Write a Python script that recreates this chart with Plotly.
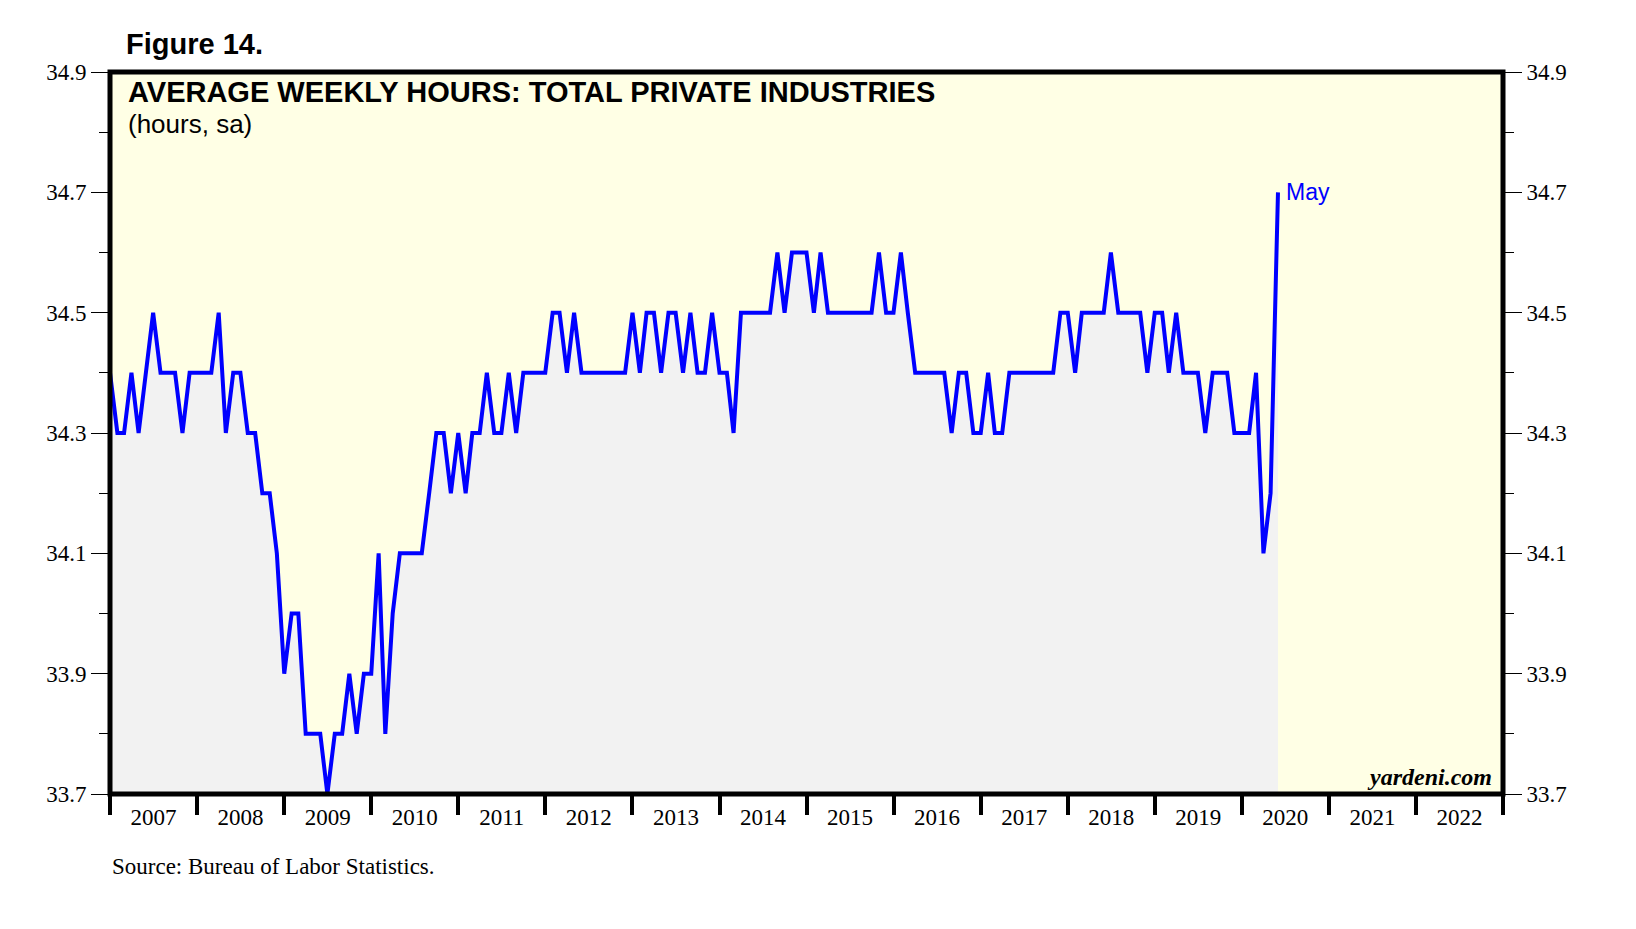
import pandas as pd
import plotly.graph_objects as go

# Observation months (Dec 2006 .. May 2020); each value plotted at month end
months = pd.period_range("2006-12", "2020-05", freq="M")
hours = [
    34.4, 34.3, 34.3, 34.4, 34.3, 34.4, 34.5, 34.4, 34.4, 34.4,
    34.3, 34.4, 34.4, 34.4, 34.4, 34.5, 34.3, 34.4, 34.4, 34.3,
    34.3, 34.2, 34.2, 34.1, 33.9, 34.0, 34.0, 33.8, 33.8, 33.8,
    33.7, 33.8, 33.8, 33.9, 33.8, 33.9, 33.9, 34.1, 33.8, 34.0,
    34.1, 34.1, 34.1, 34.1, 34.2, 34.3, 34.3, 34.2, 34.3, 34.2,
    34.3, 34.3, 34.4, 34.3, 34.3, 34.4, 34.3, 34.4, 34.4, 34.4,
    34.4, 34.5, 34.5, 34.4, 34.5, 34.4, 34.4, 34.4, 34.4, 34.4,
    34.4, 34.4, 34.5, 34.4, 34.5, 34.5, 34.4, 34.5, 34.5, 34.4,
    34.5, 34.4, 34.4, 34.5, 34.4, 34.4, 34.3, 34.5, 34.5, 34.5,
    34.5, 34.5, 34.6, 34.5, 34.6, 34.6, 34.6, 34.5, 34.6, 34.5,
    34.5, 34.5, 34.5, 34.5, 34.5, 34.5, 34.6, 34.5, 34.5, 34.6,
    34.5, 34.4, 34.4, 34.4, 34.4, 34.4, 34.3, 34.4, 34.4, 34.3,
    34.3, 34.4, 34.3, 34.3, 34.4, 34.4, 34.4, 34.4, 34.4, 34.4,
    34.4, 34.5, 34.5, 34.4, 34.5, 34.5, 34.5, 34.5, 34.6, 34.5,
    34.5, 34.5, 34.5, 34.4, 34.5, 34.5, 34.4, 34.5, 34.4, 34.4,
    34.4, 34.3, 34.4, 34.4, 34.4, 34.3, 34.3, 34.3, 34.4, 34.1,
    34.2, 34.7,
]
y_range = [33.7, 34.9]
x_range = ["2007-01-01", "2023-01-01"]
last_label = "May"

x_pos = (months + 1).to_timestamp()  # month-end position

W, H = 1636, 929
ML, MR, MT, MB = 110, 133, 72, 135

SERIF = "Liberation Serif"
SANS = "Liberation Sans"

fig = go.Figure()
fig.add_trace(go.Scatter(
    x=x_pos, y=hours, mode="lines",
    line=dict(color="#0000FF", width=4),
    fill="tozeroy", fillcolor="#F2F2F2",
    hoverinfo="skip", showlegend=False,
))
# invisible trace so the right-hand axis is drawn
fig.add_trace(go.Scatter(
    x=[x_pos[0]], y=[hours[0]], yaxis="y2", mode="markers",
    marker=dict(opacity=0), hoverinfo="skip", showlegend=False,
))

yax = dict(
    range=y_range, tick0=33.7, dtick=0.2, tickformat=".1f",
    ticks="outside", ticklen=18, tickwidth=1, tickcolor="black",
    showgrid=False, zeroline=False, showline=False,
    tickfont=dict(family=SERIF, size=23, color="black"),
    minor=dict(tick0=33.7, dtick=0.1, ticks="outside", ticklen=10,
               tickwidth=1, tickcolor="black", showgrid=False),
    fixedrange=True,
)

fig.update_layout(
    width=W, height=H, autosize=False,
    margin=dict(l=ML, r=MR, t=MT, b=MB, pad=0),
    paper_bgcolor="white", plot_bgcolor="#FFFFE5",
    xaxis=dict(
        type="date", range=x_range, tick0="2007-01-01", dtick="M12",
        tickformat="%Y", ticklabelmode="period", ticklabelstandoff=-18,
        ticks="outside", ticklen=20, tickwidth=4, tickcolor="black",
        showgrid=False, zeroline=False, showline=False,
        tickfont=dict(family=SERIF, size=23, color="black"),
        fixedrange=True,
    ),
    yaxis=dict(yax, side="left"),
    yaxis2=dict(yax, side="right", overlaying="y"),
    shapes=[dict(type="rect", xref="paper", yref="paper", x0=0, x1=1, y0=0, y1=1,
                 line=dict(color="black", width=5), layer="above")],
    annotations=[
        dict(text="<b>Figure 14.</b>", xref="paper", yref="paper", x=0, y=1,
             xanchor="left", yanchor="middle", xshift=14, yshift=28,
             showarrow=False, font=dict(family=SANS, size=29, color="black")),
        dict(text="<b>AVERAGE WEEKLY HOURS: TOTAL PRIVATE INDUSTRIES</b>",
             xref="paper", yref="paper", x=0, y=1,
             xanchor="left", yanchor="middle", xshift=16, yshift=-20,
             showarrow=False, font=dict(family=SANS, size=29, color="black")),
        dict(text="(hours, sa)", xref="paper", yref="paper", x=0, y=1,
             xanchor="left", yanchor="middle", xshift=16, yshift=-52,
             showarrow=False, font=dict(family=SANS, size=26, color="black")),
        dict(text="<b><i>yardeni.com</i></b>", xref="paper", yref="paper", x=1, y=0,
             xanchor="right", yanchor="middle", xshift=-9, yshift=17,
             showarrow=False, font=dict(family=SERIF, size=24, color="black")),
        dict(text="Source: Bureau of Labor Statistics.", xref="paper", yref="paper",
             x=0, y=0, xanchor="left", yanchor="middle", xshift=0, yshift=-72,
             showarrow=False, font=dict(family=SERIF, size=23, color="black")),
        dict(text=last_label, xref="x", yref="y", x=x_pos[-1], y=hours[-1],
             xanchor="left", yanchor="middle", xshift=6, yshift=0,
             showarrow=False, font=dict(family=SANS, size=23, color="#0000FF")),
    ],
)

fig.write_html(
    "out.html",
    config={"displayModeBar": False},
    post_script="document.body.style.margin='0';document.body.style.overflow='hidden';",
)
